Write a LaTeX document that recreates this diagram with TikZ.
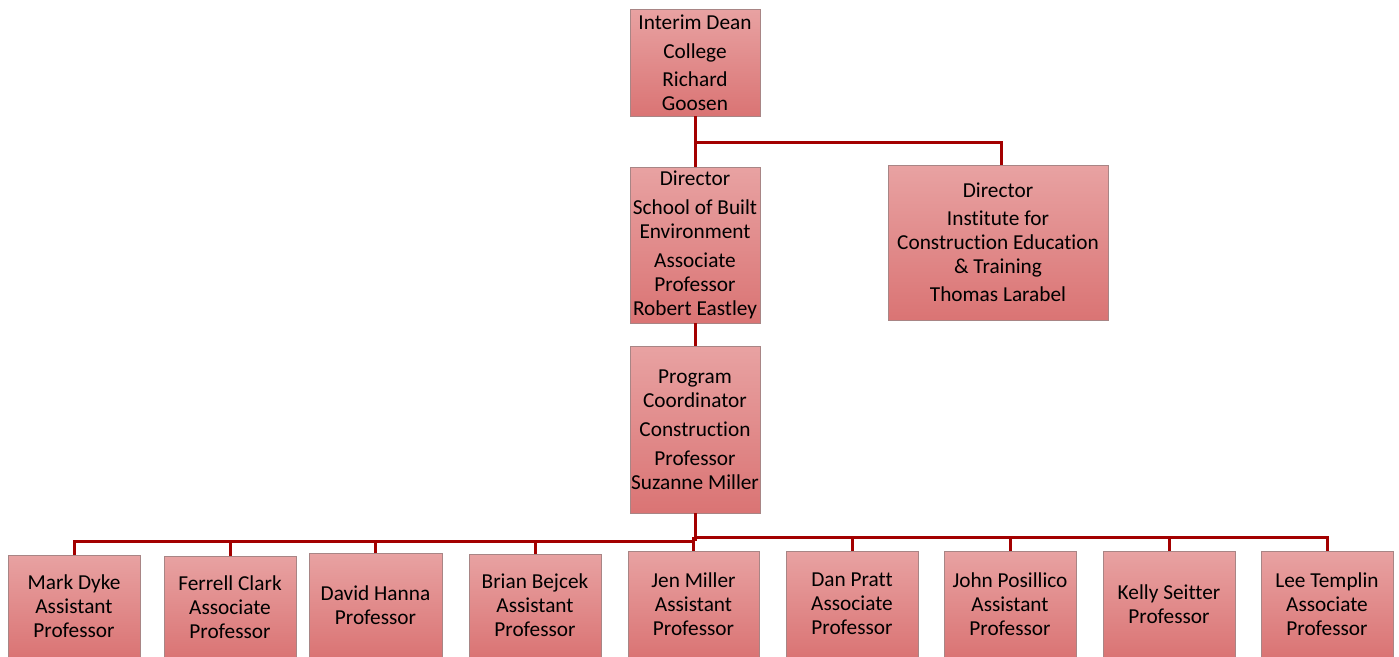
\documentclass[tikz,border=0pt]{standalone}
\usepackage{fontspec}
\setmainfont{Carlito}[Ligatures={NoCommon}]
\definecolor{boxtop}{HTML}{E8A2A2}
\definecolor{boxbot}{HTML}{DA7474}
\definecolor{boxedge}{HTML}{A88585}
\definecolor{linkred}{HTML}{A30000}
\begin{document}
\begin{tikzpicture}[x=1pt,y=-1pt,
  orgbox/.style={rectangle, draw=boxedge, line width=0.9pt,
    top color=boxtop, bottom color=boxbot, align=center, inner sep=0pt,
    font=\fontsize{21.3}{24}\selectfont},
  link/.style={draw=linkred, line width=3pt}]
\useasboundingbox (0,0) rectangle (1399,656);
\begin{scope}
\clip (0,0) rectangle (1399,656);

% upper levels
\node[orgbox, minimum width=130pt, minimum height=107pt] (dean) at (695,62.5)
  {Interim Dean\\[5pt]College\\[4pt]Richard\\Goosen};
\node[orgbox, minimum width=130pt, minimum height=156pt] (sbe) at (695,245)
  {Director\\[5pt]School of Built\\Environment\\[5pt]Associate\\Professor\\Robert Eastley};
\node[orgbox, minimum width=220pt, minimum height=155pt] (icet) at (998,242.5)
  {Director\\[4pt]Institute for\\Construction Education\\\& Training\\[4pt]Thomas Larabel};
\node[orgbox, minimum width=130pt, minimum height=167pt] (pc) at (695,429.5)
  {Program\\Coordinator\\[5pt]Construction\\[5pt]Professor\\Suzanne Miller};

% faculty row
\node[orgbox, minimum width=132pt, minimum height=102pt] (f1) at (74,606)   {Mark Dyke\\Assistant\\Professor};
\node[orgbox, minimum width=132pt, minimum height=102pt] (f2) at (230,607)  {Ferrell Clark\\Associate\\Professor};
\node[orgbox, minimum width=133pt, minimum height=104pt] (f3) at (375.5,605) {David Hanna\\Professor};
\node[orgbox, minimum width=132pt, minimum height=103pt] (f4) at (535,605.5) {Brian Bejcek\\Assistant\\Professor};
\node[orgbox, minimum width=131pt, minimum height=106pt] (f5) at (693.5,604) {Jen Miller\\Assistant\\Professor};
\node[orgbox, minimum width=132pt, minimum height=106pt] (f6) at (852,604)  {Dan Pratt\\Associate\\Professor};
\node[orgbox, minimum width=132pt, minimum height=106pt] (f7) at (1010,604) {John Posillico\\Assistant\\Professor};
\node[orgbox, minimum width=132pt, minimum height=106pt] (f8) at (1169,604) {Kelly Seitter\\Professor};
\node[orgbox, minimum width=132pt, minimum height=106pt] (f9) at (1327,604) {Lee Templin\\Associate\\Professor};

% connectors
\coordinate (deanfork) at (695,142);
\coordinate (leftbus) at (695,541);
\coordinate (rightbus) at (695,537);

\path[link] (dean.south) -- (sbe.north);
\path[link] (deanfork) -| ([xshift=3pt]icet.north);
\path[link] (sbe.south) -- (pc.north);
\path[link] (pc.south) -- (leftbus);
\path[link] (leftbus) -| (f1.north);
\path[link] (rightbus) -| (f9.north);
\foreach \f in {f2,f3,f4}{\path[link] (\f.north) -- (\f.north |- leftbus);}
\foreach \f in {f5,f6,f7,f8}{\path[link] (\f.north) -- (\f.north |- rightbus);}
\end{scope}
\end{tikzpicture}
\end{document}
